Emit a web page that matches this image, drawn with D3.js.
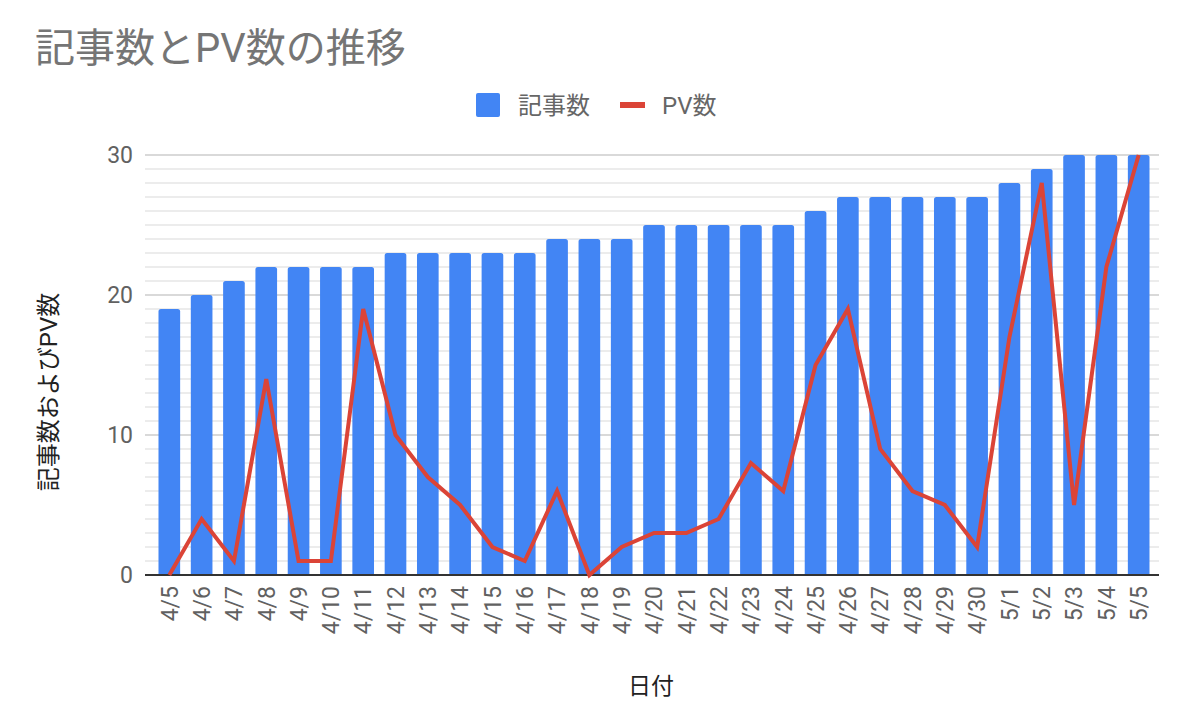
<!DOCTYPE html>
<html>
<head>
<meta charset="utf-8">
<script src="https://cdnjs.cloudflare.com/ajax/libs/d3/7.8.5/d3.min.js"></script>
<style>
  body { margin: 0; background: #fff; }
  svg text { font-family: Roboto, "Noto Sans CJK JP", sans-serif; }
</style>
</head>
<body>
<svg id="chart"></svg>
<script>
// 日付ごとのデータ
const dates = ["4/5","4/6","4/7","4/8","4/9","4/10","4/11","4/12","4/13","4/14","4/15","4/16","4/17","4/18","4/19","4/20",
  "4/21","4/22","4/23","4/24","4/25","4/26","4/27","4/28","4/29","4/30","5/1","5/2","5/3","5/4","5/5"];
const articles = [19,20,21,22,22,22,22,23,23,23,23,23,24,24,24,25,25,25,25,25,26,27,27,27,27,27,28,29,30,30,30];
const pageViews = [0,4,1,14,1,1,19,10,7,5,2,1,6,0,2,3,3,4,8,6,15,19,9,6,5,2,17,28,5,22,30];
const yTicks = [0,10,20,30];

const width = 1178;
const height = 720;

const svg = d3.select("#chart")
    .attr("width", width)
    .attr("height", height);

// scales
const xScale = d3.scaleBand()
    .domain(dates)
    .range([153, 1155])
    .paddingInner(0.33)
    .paddingOuter(0.17);

const yScale = d3.scaleLinear()
    .domain([0, 30])
    .range([575, 155]);

const gridLeft = 145, gridRight = 1159;

// minor grid lines
svg.append("g")
    .selectAll("line")
    .data(d3.range(0, 31).filter(v => v % 10 !== 0))
    .enter().append("line")
    .attr("x1", gridLeft).attr("x2", gridRight)
    .attr("y1", d => yScale(d)).attr("y2", d => yScale(d))
    .attr("stroke", "#e6e6e6")
    .attr("stroke-width", 1.5);

// major grid lines
svg.append("g")
    .selectAll("line")
    .data(yTicks.filter(v => v > 0))
    .enter().append("line")
    .attr("x1", gridLeft).attr("x2", gridRight)
    .attr("y1", d => yScale(d)).attr("y2", d => yScale(d))
    .attr("stroke", "#cccccc")
    .attr("stroke-width", 1.5);

// y tick labels
svg.append("g")
    .selectAll("text")
    .data(yTicks)
    .enter().append("text")
    .attr("x", 133)
    .attr("y", d => yScale(d))
    .attr("dy", "0.36em")
    .attr("text-anchor", "end")
    .attr("font-size", 23)
    .attr("fill", "#616161")
    .text(d => d);

// bars (rounded top corners)
const r = 2.5;
svg.append("g")
    .selectAll("path")
    .data(articles)
    .enter().append("path")
    .attr("fill", "#4285F4")
    .attr("d", (d, i) => {
        const x0 = xScale(dates[i]);
        const w = xScale.bandwidth();
        const y0 = yScale(d);
        const yb = yScale(0);
        return `M${x0},${yb} V${y0 + r} Q${x0},${y0} ${x0 + r},${y0} H${x0 + w - r} Q${x0 + w},${y0} ${x0 + w},${y0 + r} V${yb} Z`;
    });

// baseline
svg.append("line")
    .attr("x1", gridLeft).attr("x2", gridRight)
    .attr("y1", yScale(0)).attr("y2", yScale(0))
    .attr("stroke", "#333333")
    .attr("stroke-width", 2);

// PV line
const line = d3.line()
    .x((d, i) => xScale(dates[i]) + xScale.bandwidth() / 2)
    .y(d => yScale(d));

svg.append("path")
    .datum(pageViews)
    .attr("fill", "none")
    .attr("stroke", "#DB4437")
    .attr("stroke-width", 4)
    .attr("stroke-linejoin", "miter")
    .attr("d", line);

// x tick labels (rotated)
svg.append("g")
    .selectAll("text")
    .data(dates)
    .enter().append("text")
    .attr("transform", d => `translate(${xScale(d) + xScale.bandwidth() / 2},586) rotate(-90)`)
    .attr("dy", "0.36em")
    .attr("text-anchor", "end")
    .attr("font-size", 23)
    .attr("fill", "#616161")
    .text(d => d);

// title
svg.append("text")
    .attr("x", 35)
    .attr("y", 62)
    .attr("font-size", 40)
    .attr("fill", "#757575")
    .text("記事数とPV数の推移");

// legend
const legend = svg.append("g");
legend.append("rect")
    .attr("x", 476).attr("y", 93)
    .attr("width", 24).attr("height", 24)
    .attr("rx", 2)
    .attr("fill", "#4285F4");
legend.append("text")
    .attr("x", 518).attr("y", 105)
    .attr("dy", "0.36em")
    .attr("font-size", 24)
    .attr("fill", "#666666")
    .text("記事数");
legend.append("rect")
    .attr("x", 620).attr("y", 102)
    .attr("width", 25).attr("height", 6)
    .attr("fill", "#DB4437");
legend.append("text")
    .attr("x", 662).attr("y", 105)
    .attr("dy", "0.36em")
    .attr("font-size", 24)
    .attr("fill", "#666666")
    .text("PV数");

// axis titles
svg.append("text")
    .attr("x", 651)
    .attr("y", 694)
    .attr("text-anchor", "middle")
    .attr("font-size", 23)
    .attr("fill", "#222222")
    .text("日付");

svg.append("text")
    .attr("transform", "translate(57,392) rotate(-90)")
    .attr("text-anchor", "middle")
    .attr("font-size", 24)
    .attr("fill", "#222222")
    .text("記事数およびPV数");
</script>
</body>
</html>
